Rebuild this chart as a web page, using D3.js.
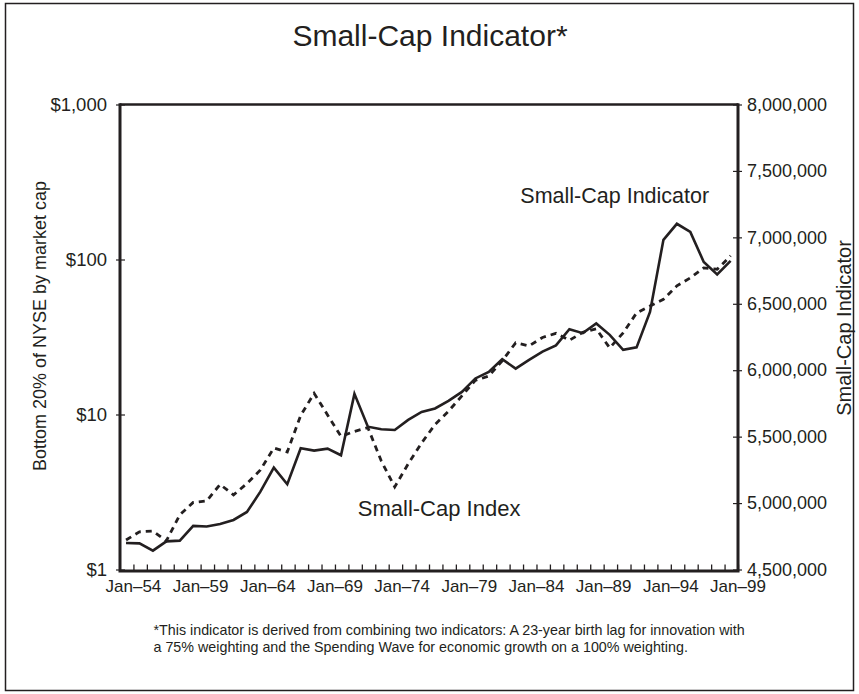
<!DOCTYPE html>
<meta charset="utf-8">
<style>
body { margin: 0; background: #fff; }
text { font-family: "Liberation Sans", Arial, sans-serif; fill: #231f20; }
</style>
<svg width="859" height="694"></svg>
<script src="https://cdnjs.cloudflare.com/ajax/libs/d3/7.8.5/d3.min.js"></script>
<script>
// years (points sit at mid-year)
var years = [1953,1954,1955,1956,1957,1958,1959,1960,1961,1962,1963,1964,1965,1966,1967,1968,1969,1970,
  1971,1972,1973,1974,1975,1976,1977,1978,1979,1980,1981,1982,1983,1984,1985,1986,1987,1988,1989,1990,
  1991,1992,1993,1994,1995,1996,1997,1998];

// Small-Cap Index, $ (left, log scale) - dashed
var indexValues = [1.55,1.75,1.77,1.53,2.25,2.71,2.77,3.54,3.03,3.59,4.39,6.08,5.73,9.86,13.7,9.94,7.22,7.78,
  8.23,5.01,3.41,4.80,6.55,8.63,10.5,13.2,16.6,17.7,22.2,29.0,27.7,31.4,33.4,30.1,33.9,35.7,26.9,33.6,
  45.2,50.2,55.3,67.6,76.1,88.3,86.5,105.6];

// Small-Cap Indicator (right axis) - solid
var indicatorValues = [4700000,4697000,4642000,4712000,4717000,4828000,4824000,4843000,4873000,4933000,
  5086000,5267000,5142000,5413000,5395000,5410000,5360000,5822000,5575000,5556000,5550000,5626000,
  5686000,5712000,5769000,5837000,5938000,5987000,6083000,6012000,6078000,6140000,6187000,6309000,
  6279000,6352000,6266000,6153000,6172000,6439000,6981000,7102000,7041000,6815000,6721000,6823000];

var xLabelYears = [1954,1959,1964,1969,1974,1979,1984,1989,1994,1999];
var leftTicks = [1,10,100,1000];
var rightTicks = [4500000,5000000,5500000,6000000,6500000,7000000,7500000,8000000];

var svg = d3.select("svg"),
    margin = {top: 104.5, right: 121, bottom: 124.5, left: 120},
    width = +svg.attr("width") - margin.left - margin.right,
    height = +svg.attr("height") - margin.top - margin.bottom,
    g = svg.append("g").attr("transform", "translate(" + margin.left + "," + margin.top + ")");

// outer frame
svg.append("rect")
    .attr("x", 5.5).attr("y", 3.5).attr("width", 848).attr("height", 687)
    .attr("fill", "none").attr("stroke", "#231f20").attr("stroke-width", 1.5);

svg.append("text")
    .attr("x", 430).attr("y", 46)
    .attr("text-anchor", "middle")
    .attr("font-size", 30)
    .text("Small-Cap Indicator*");

var x = d3.scaleLinear().domain([1953, 1999]).range([0, width]);
var yL = d3.scaleLog().domain([1, 1000]).range([height, 0]);
var yR = d3.scaleLinear().domain([4500000, 8000000]).range([height, 0]);

var fmtDollar = d3.format("$,");
var fmtNum = d3.format(",");

// bottom axis: minor tick each year, labels every five years
var xAxis = g.append("g")
    .attr("transform", "translate(0," + height + ")")
    .call(d3.axisBottom(x).tickValues(d3.range(1954, 2000)).tickSize(-5).tickFormat(""));
xAxis.selectAll(".tick line").attr("stroke", "#231f20").attr("stroke-width", 1.3).attr("y2", -5).attr("y1", 2);
xAxis.select(".domain").remove();

g.append("g").selectAll("text")
    .data(xLabelYears)
    .enter().append("text")
      .attr("x", function(d) { return x(d); })
      .attr("y", height + 22)
      .attr("text-anchor", "middle")
      .attr("font-size", 17)
      .text(function(d) { return "Jan\u2013" + String(d).slice(2); });

// left axis
var lAxis = g.append("g")
    .call(d3.axisLeft(yL).tickValues(leftTicks).tickSize(4).tickPadding(9).tickFormat(fmtDollar));
lAxis.select(".domain").remove();
lAxis.selectAll(".tick line").attr("x1", 5).attr("stroke", "#231f20").attr("stroke-width", 1.2);
lAxis.selectAll(".tick text").attr("font-size", 18.5).attr("fill", "#231f20")
    .attr("font-family", "'Liberation Sans', Arial, sans-serif");

// right axis
var rAxis = g.append("g")
    .attr("transform", "translate(" + width + ",0)")
    .call(d3.axisRight(yR).tickValues(rightTicks).tickSize(4).tickPadding(5).tickFormat(fmtNum));
rAxis.select(".domain").remove();
rAxis.selectAll(".tick line").attr("x1", -5).attr("stroke", "#231f20").attr("stroke-width", 1.2);
rAxis.selectAll(".tick text").attr("font-size", 18).attr("fill", "#231f20")
    .attr("font-family", "'Liberation Sans', Arial, sans-serif");

// frame of plot
g.append("path")
    .attr("d", "M0,0H" + width)
    .attr("stroke", "#231f20").attr("stroke-width", 2.5).attr("fill", "none");
g.append("path")
    .attr("d", "M0,-1.2V" + (height + 1.5) + "H" + width + "V-1.2")
    .attr("stroke", "#231f20").attr("stroke-width", 3).attr("fill", "none");

// axis titles
svg.append("text")
    .attr("transform", "translate(45.5," + 326 + ") rotate(-90)")
    .attr("text-anchor", "middle")
    .attr("font-size", 18)
    .text("Bottom 20% of NYSE by market cap");

svg.append("text")
    .attr("transform", "translate(851," + 328 + ") rotate(-90)")
    .attr("text-anchor", "middle")
    .attr("font-size", 20)
    .text("Small-Cap Indicator");

// lines
var indexLine = d3.line()
    .x(function(d, i) { return x(years[i] + 0.45); })
    .y(function(d) { return yL(d); });
var indicatorLine = d3.line()
    .x(function(d, i) { return x(years[i] + 0.45); })
    .y(function(d) { return yR(d); });

g.append("path")
    .datum(indexValues)
    .attr("d", indexLine)
    .attr("fill", "none")
    .attr("stroke", "#231f20")
    .attr("stroke-width", 2.8)
    .attr("stroke-dasharray", "6,5");

g.append("path")
    .datum(indicatorValues)
    .attr("d", indicatorLine)
    .attr("fill", "none")
    .attr("stroke", "#231f20")
    .attr("stroke-width", 2.6)
    .attr("stroke-linejoin", "miter");

// series labels
g.append("text")
    .attr("x", x(1982.8)).attr("y", yR(7255000))
    .attr("font-size", 21.5)
    .text("Small-Cap Indicator");
g.append("text")
    .attr("x", x(1970.7)).attr("y", yL(2.23))
    .attr("font-size", 22)
    .text("Small-Cap Index");

// footnote
var foot = svg.append("text").attr("font-size", 14.3);
foot.append("tspan").attr("x", 153.5).attr("y", 634.5)
    .text("*This indicator is derived from combining two indicators: A 23-year birth lag for innovation with");
foot.append("tspan").attr("x", 153.5).attr("y", 651.5)
    .text("a 75% weighting and the Spending Wave for economic growth on a 100% weighting.");
</script>
